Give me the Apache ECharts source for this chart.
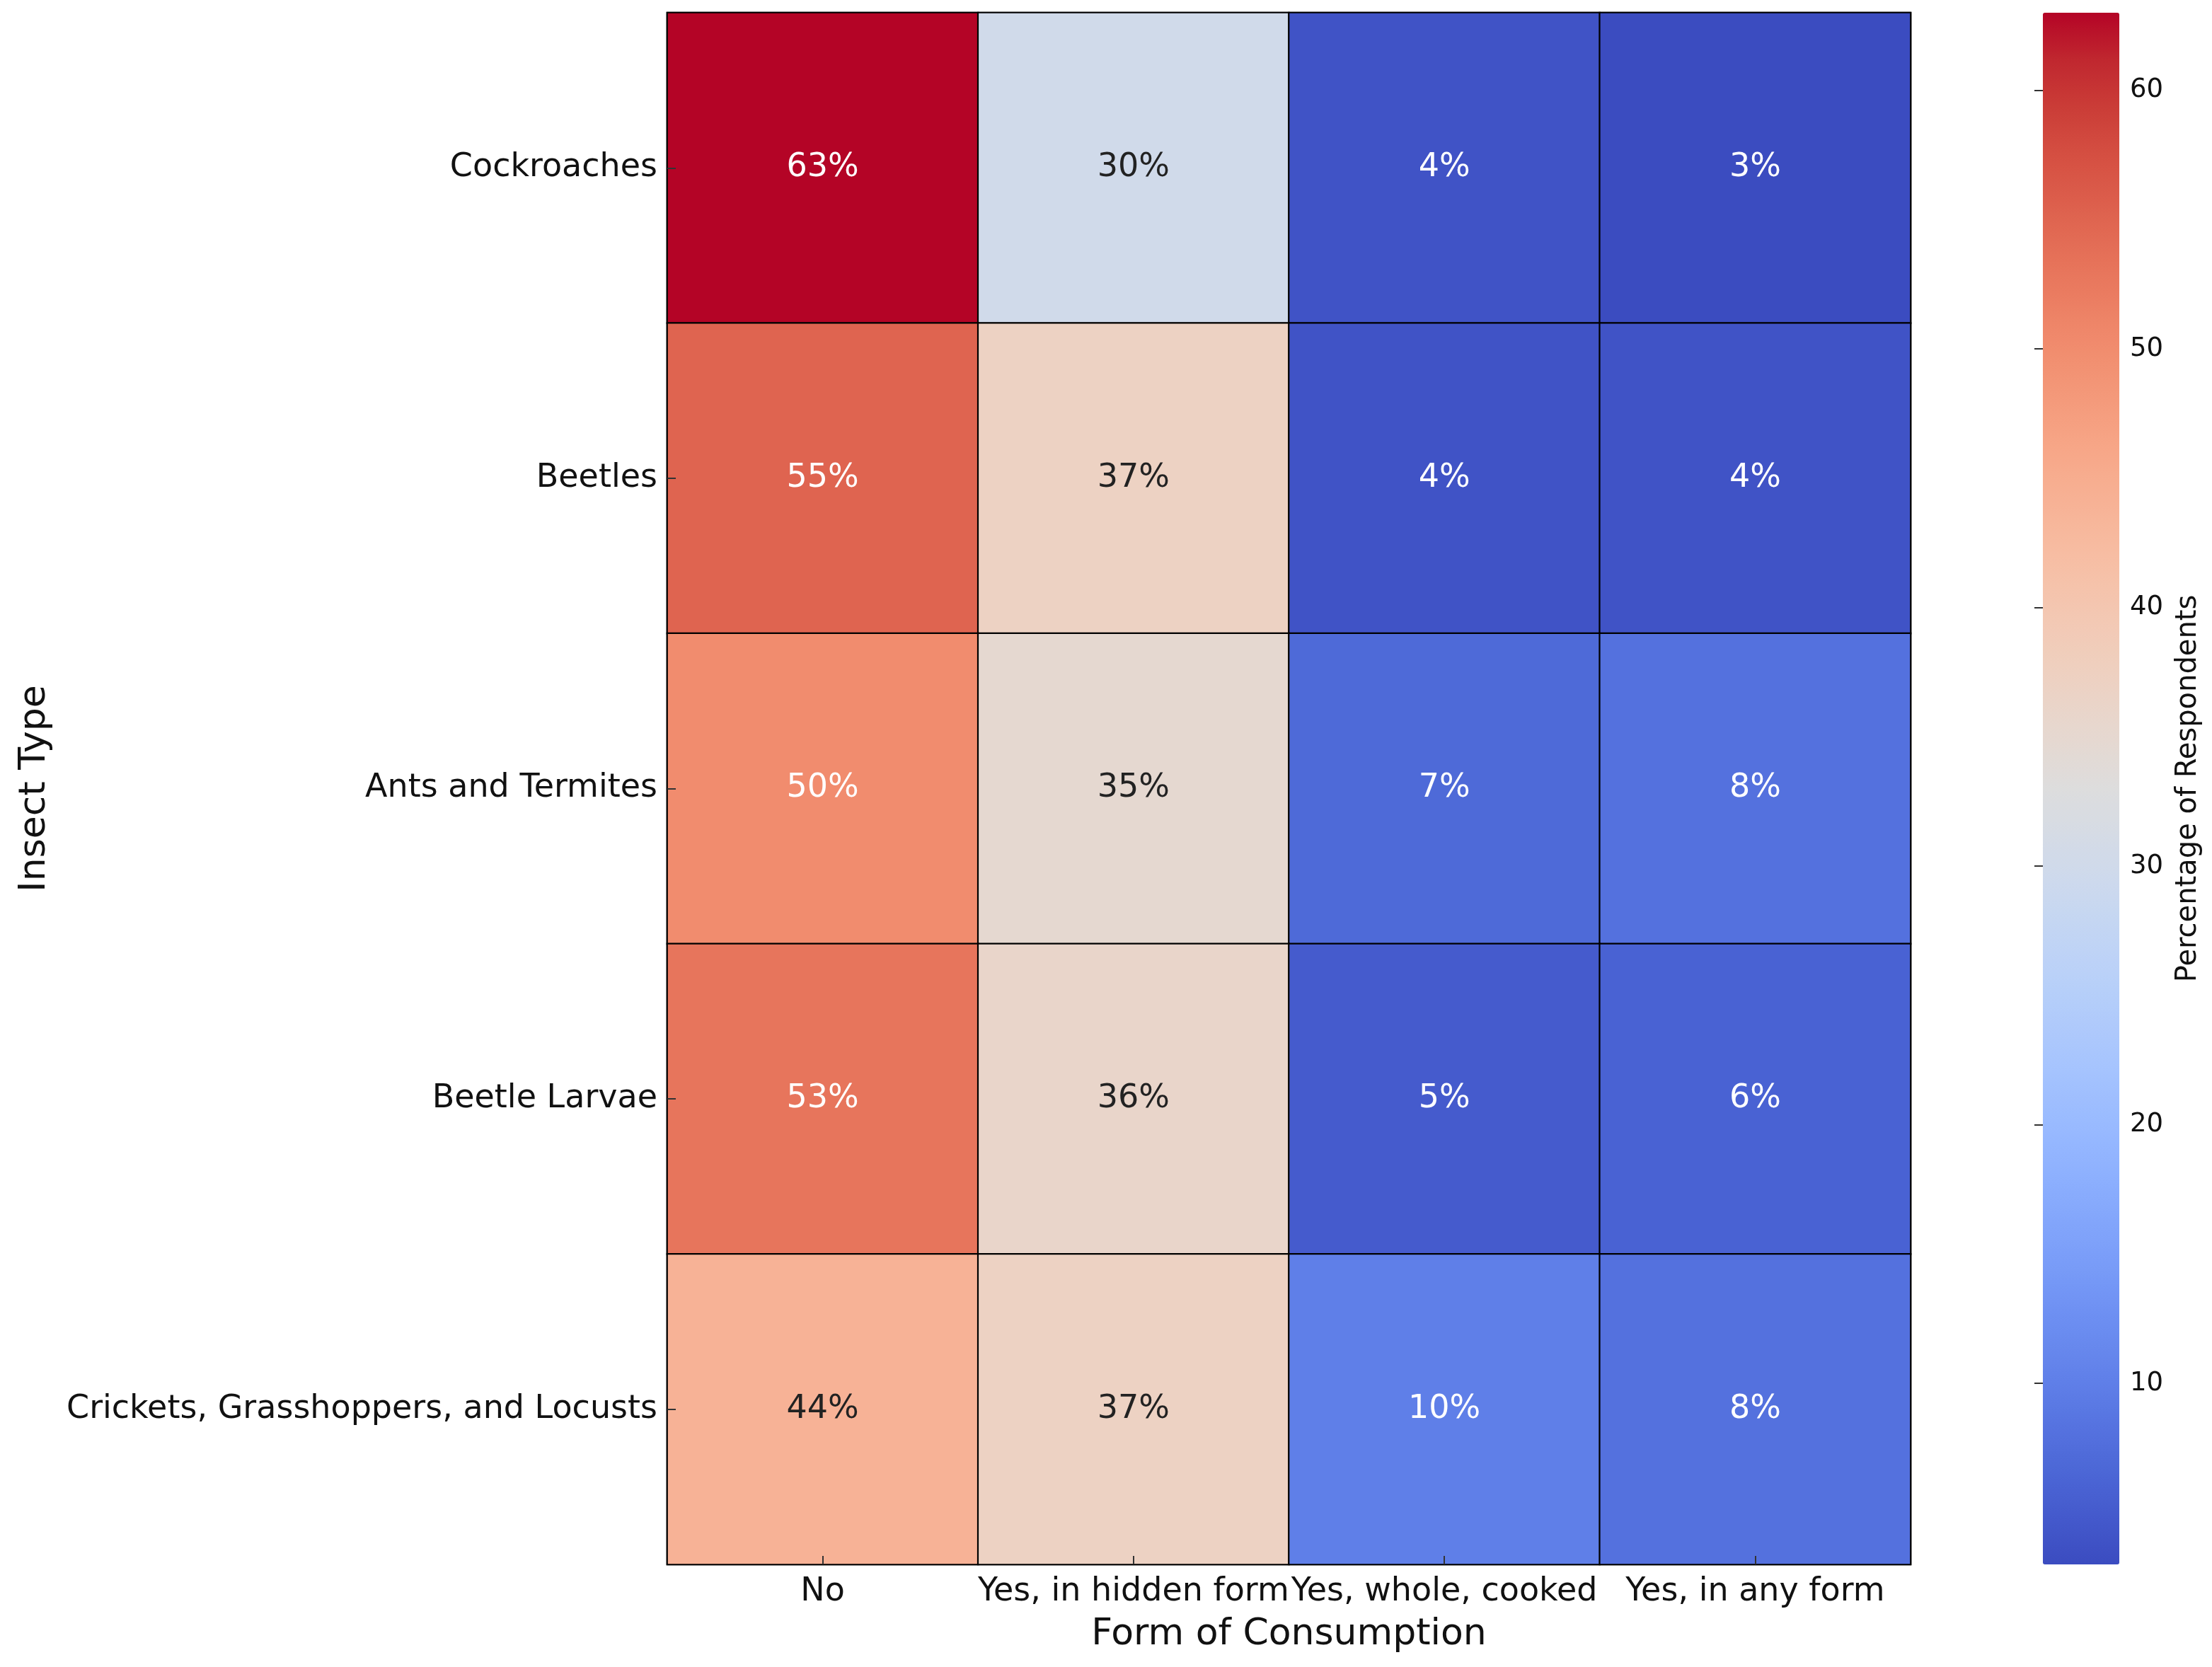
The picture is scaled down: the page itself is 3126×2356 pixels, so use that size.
<!DOCTYPE html>
<html>
<head>
<meta charset="utf-8">
<script src="https://cdn.jsdelivr.net/npm/echarts@6/dist/echarts.min.js"></script>
<style>
html,body{margin:0;padding:0;background:#fff;}
#chart{width:3126px;height:2356px;}
</style>
</head>
<body>
<div id="chart"></div>
<script>
// ---- data ----
const forms = ['No', 'Yes, in hidden form', 'Yes, whole, cooked', 'Yes, in any form'];
const insectTypes = ['Cockroaches', 'Beetles', 'Ants and Termites', 'Beetle Larvae', 'Crickets, Grasshoppers, and Locusts'];
const cockroaches = [63, 30, 4, 3];
const beetles = [55, 37, 4, 4];
const antsAndTermites = [50, 35, 7, 8];
const beetleLarvae = [53, 36, 5, 6];
const cricketsGrasshoppersLocusts = [44, 37, 10, 8];
const rows = [cockroaches, beetles, antsAndTermites, beetleLarvae, cricketsGrasshoppersLocusts];
const colorbarTicks = [10, 20, 30, 40, 50, 60];

// coolwarm colormap stops
const coolwarm = ['#3b4cc0','#445acc','#4d68d7','#5775e1','#6282ea','#6c8ef1','#779af7','#82a5fb',
  '#8db0fe','#98b9ff','#a3c2fe','#aec9fc','#b8d0f9','#c2d5f4','#ccd9ee','#d5dbe5','#dddddd',
  '#e5d8d1','#ecd3c5','#f1ccb9','#f5c4ad','#f7bba0','#f7b194','#f7a687','#f49a7b','#f18d6f',
  '#ec7f63','#e57058','#dd604d','#d55042','#cb3e38','#c0282f','#b40426'];

const allVals = rows.flat();
const vMin = Math.min(...allVals);
const vMax = Math.max(...allVals);

function hexToRgb(h){return [parseInt(h.substr(1,2),16),parseInt(h.substr(3,2),16),parseInt(h.substr(5,2),16)];}
function cmap(v){
  let t = (v - vMin) / (vMax - vMin);
  t = Math.max(0, Math.min(1, t));
  const p = t * (coolwarm.length - 1);
  const i = Math.min(Math.floor(p), coolwarm.length - 2);
  const f = p - i;
  const a = hexToRgb(coolwarm[i]), b = hexToRgb(coolwarm[i+1]);
  return [0,1,2].map(k => a[k] + (b[k]-a[k])*f);
}
function luminance(rgb){
  const lin = rgb.map(c => { c = c/255; return c <= 0.03928 ? c/12.92 : Math.pow((c+0.055)/1.055, 2.4); });
  return 0.2126*lin[0] + 0.7152*lin[1] + 0.0722*lin[2];
}

const heatData = [];
rows.forEach((row, yi) => {
  row.forEach((v, xi) => {
    const lum = luminance(cmap(v));
    heatData.push({ value: [xi, yi, v], label: { color: lum < 0.408 ? '#ffffff' : '#222222' } });
  });
});

const FONT = 'DejaVu Sans';
const chart = echarts.init(document.getElementById('chart'), null, { renderer: 'canvas' });
chart.setOption({
  backgroundColor: '#ffffff',
  animation: false,
  textStyle: { fontFamily: FONT },
  grid: [
    { left: 943, top: 18, width: 1757, height: 2193, show: true, borderColor: '#000', borderWidth: 2.4, backgroundColor: 'transparent' },
    { left: 2887, top: 18, width: 108, height: 2193, show: false }
  ],
  xAxis: [
    {
      type: 'category', data: forms, gridIndex: 0, position: 'bottom', z: 10,
      name: 'Form of Consumption', nameLocation: 'middle', nameGap: 73,
      nameTextStyle: { fontSize: 52, color: '#111', fontFamily: FONT },
      axisLine: { show: false },
      axisTick: { show: true, inside: true, alignWithLabel: true, length: 12, lineStyle: { color: '#333', width: 2 } },
      axisLabel: { interval: 0, fontSize: 46, color: '#111', margin: 16, fontFamily: FONT },
      splitLine: { show: false }
    },
    { type: 'value', gridIndex: 1, show: false, min: 0, max: 1 }
  ],
  yAxis: [
    {
      type: 'category', data: insectTypes, gridIndex: 0, inverse: true, z: 10,
      name: 'Insect Type', nameLocation: 'middle', nameGap: 868, nameRotate: 90,
      nameTextStyle: { fontSize: 52, color: '#111', fontFamily: FONT },
      axisLine: { show: false },
      axisTick: { show: true, inside: true, alignWithLabel: true, length: 12, lineStyle: { color: '#333', width: 2 } },
      axisLabel: { fontSize: 46, color: '#111', margin: 14, fontFamily: FONT },
      splitLine: { show: false }
    },
    {
      type: 'value', gridIndex: 1, position: 'right', min: vMin, max: vMax, z: 10,
      name: 'Percentage of Respondents', nameLocation: 'middle', nameGap: 78, nameRotate: 90,
      nameTextStyle: { fontSize: 40, color: '#111', fontFamily: FONT },
      axisLine: { show: false },
      splitLine: { show: false },
      axisTick: { show: true, inside: true, length: 12, customValues: colorbarTicks, lineStyle: { color: '#333', width: 2 } },
      axisLabel: { show: true, fontSize: 37, color: '#111', margin: 15, customValues: colorbarTicks, fontFamily: FONT }
    }
  ],
  visualMap: {
    type: 'continuous', min: vMin, max: vMax, seriesIndex: 0, z: 2,
    calculable: false, hoverLink: false, realtime: false,
    orient: 'vertical', left: 2887, top: 18, itemWidth: 108, itemHeight: 2193,
    padding: 0, text: null, showLabel: false,
    inRange: { color: coolwarm }
  },
  series: [{
    type: 'heatmap', xAxisIndex: 0, yAxisIndex: 0,
    data: heatData,
    itemStyle: { borderColor: '#000', borderWidth: 2.2 },
    label: { show: true, fontSize: 46, fontFamily: FONT, formatter: p => p.value[2] + '%' },
    emphasis: { disabled: true }
  }]
});
</script>
</body>
</html>
